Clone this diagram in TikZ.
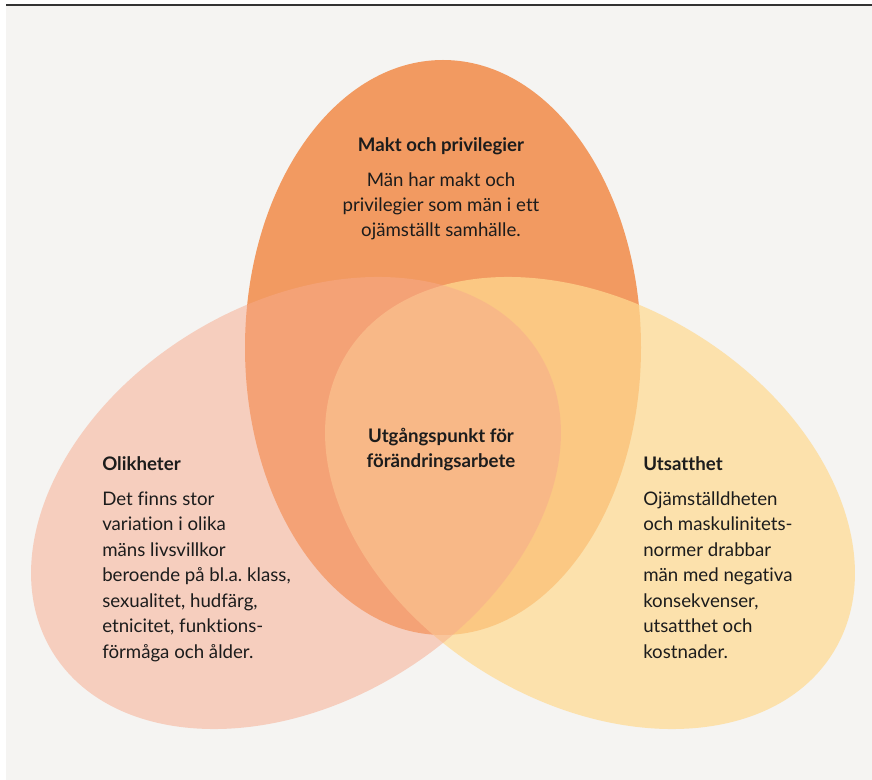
\documentclass[tikz,border=0pt]{standalone}
\usepackage{fontspec}
\setmainfont{Lato}[Ligatures=NoCommon]
\usepackage{tikz}
\usetikzlibrary{positioning}
\frenchspacing

\definecolor{bakgrund}{HTML}{F5F4F2}
\definecolor{maktfarg}{HTML}{F29A61}
\definecolor{olikfarg}{HTML}{F7AA8C}
\definecolor{utsattfarg}{HTML}{FFDA91}
\definecolor{textfarg}{HTML}{1C1C1C}

\begin{document}
\begin{tikzpicture}[x=0.75pt,y=0.75pt,yscale=-1,xscale=1,
    rubrik/.style={inner sep=0pt, text=textfarg, font=\fontsize{14}{19.1}\selectfont\bfseries},
    brodtext/.style={inner sep=0pt, text=textfarg, font=\fontsize{14}{19.1}\selectfont}]
        \useasboundingbox (0,0) rectangle (872,780);
        %Background
        \fill[bakgrund] (6,6) rectangle (872,780);
        %Top rule
        \draw[line width=1.3pt, color=textfarg!90] (6,5) -- (872,5);
        %Shape: Ellipse (makt)
        \fill[maktfarg] (443,347.5) ellipse [x radius=198, y radius=287.5];
        %Shape: Ellipse (utsatthet)
        \fill[utsattfarg, fill opacity=0.72] (590,503) circle [x radius=285.5, y radius=199.4, rotate=31.4];
        %Shape: Ellipse (olikheter)
        \fill[olikfarg, fill opacity=0.5] (296,503) circle [x radius=285.5, y radius=199.4, rotate=-31.4];
        % Text Node
        \node[rubrik, anchor=base] (makt) at (441,152) {Makt och privilegier};
        % Text Node (base = last line)
        \node[brodtext, align=center, anchor=base] (makttext) at (441,237)
            {Män har makt och\\privilegier som män i ett\\ojämställt samhälle.};
        % Text Node
        \node[rubrik, align=center, anchor=base] (mitt) at (441,468)
            {Utgångspunkt för\\förändringsarbete};
        % Text Node
        \node[rubrik, anchor=base west] (olik) at (102,471) {Olikheter};
        % Text Node
        \node[brodtext, align=left, anchor=base west] (oliktext) at (102,658)
            {Det finns stor\\variation i olika\\mäns livsvillkor\\beroende på bl.a. klass,\\sexualitet, hudfärg,\\etnicitet, funktions-\\förmåga och ålder.};
        % Text Node
        \node[rubrik, anchor=base west] (utsatt) at (643,471) {Utsatthet};
        % Text Node
        \node[brodtext, align=left, anchor=base west] (utsatttext) at (643,658)
            {Ojämställdheten\\och maskulinitets-\\normer drabbar\\män med negativa\\konsekvenser,\\utsatthet och\\kostnader.};
\end{tikzpicture}
\end{document}
